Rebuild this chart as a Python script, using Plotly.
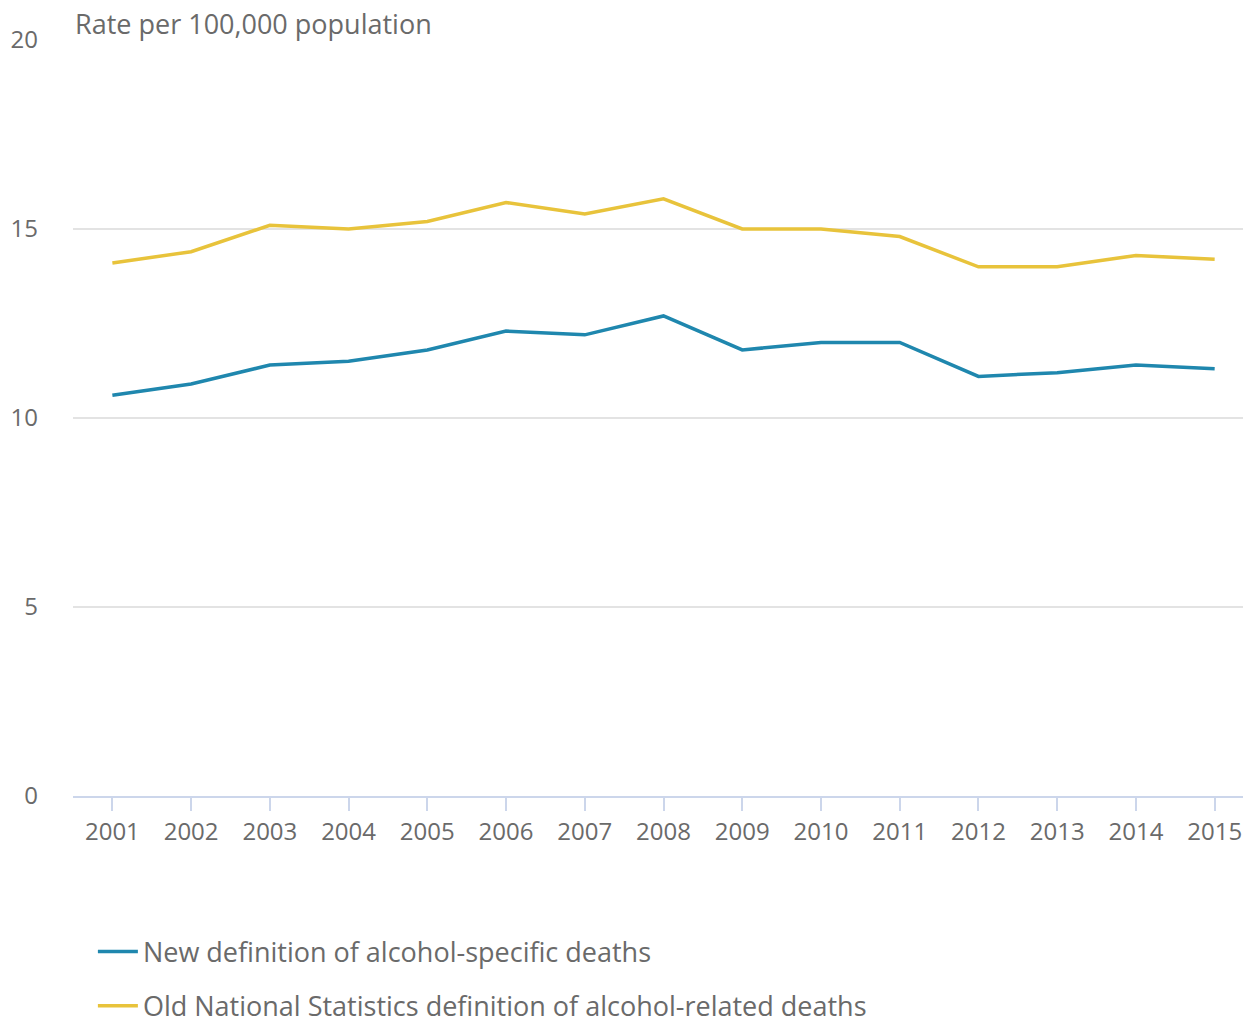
import plotly.graph_objects as go

# Alcohol death rates per 100,000 population, 2001-2015
years = ["2001", "2002", "2003", "2004", "2005", "2006", "2007", "2008",
         "2009", "2010", "2011", "2012", "2013", "2014", "2015"]
new_definition = [10.6, 10.9, 11.4, 11.5, 11.8, 12.3, 12.2, 12.7,
                  11.8, 12.0, 12.0, 11.1, 11.2, 11.4, 11.3]
old_definition = [14.1, 14.4, 15.1, 15.0, 15.2, 15.7, 15.4, 15.8,
                  15.0, 15.0, 14.8, 14.0, 14.0, 14.3, 14.2]
series_names = ["New definition of alcohol-specific deaths",
                "Old National Statistics definition of alcohol-related deaths"]
y_ticks = [0, 5, 10, 15, 20]

BLUE = "#1f87ae"
YELLOW = "#e8c33b"
TEXT = "#6a6a6a"
AXIS = "#ccd6eb"
GRID = "#e3e3e3"
FONT = "Open Sans"

fig = go.Figure()
for name, vals, col, grp in [(series_names[0], new_definition, BLUE, "a"),
                             (series_names[1], old_definition, YELLOW, "b")]:
    fig.add_trace(go.Scatter(
        x=years, y=vals, name=name, mode="lines", legendgroup=grp,
        line=dict(color=col, width=3.5),
    ))

fig.update_layout(
    width=1243, height=1018,
    margin=dict(l=73, r=0, t=40, b=222, autoexpand=False),
    paper_bgcolor="white", plot_bgcolor="white",
    font=dict(family=FONT, color=TEXT, size=24),
    showlegend=True,
    legend=dict(
        orientation="v", x=0.017, xanchor="left", y=-0.174, yanchor="top",
        font=dict(family=FONT, size=27, color=TEXT),
        tracegroupgap=16, itemwidth=40, bgcolor="rgba(0,0,0,0)",
    ),
    xaxis=dict(
        type="category", range=[-0.5, 14.36],
        showgrid=False, showline=True, linecolor=AXIS, linewidth=2,
        ticks="outside", ticklen=13, tickcolor=AXIS, tickwidth=2,
        tickfont=dict(family=FONT, size=24, color=TEXT),
        fixedrange=True,
    ),
    yaxis=dict(
        range=[0, 20], tickvals=y_ticks,
        showgrid=True, gridcolor=GRID, gridwidth=2,
        zeroline=False, showline=False,
        tickfont=dict(family=FONT, size=24, color=TEXT),
        ticklabelstandoff=34,
        fixedrange=True,
    ),
    annotations=[dict(
        text="Rate per 100,000 population", xref="paper", yref="paper",
        x=0, y=1, xanchor="left", yanchor="bottom", yshift=-4,
        showarrow=False, font=dict(family=FONT, size=27, color=TEXT),
    )],
)

fig.write_html("out.html")
